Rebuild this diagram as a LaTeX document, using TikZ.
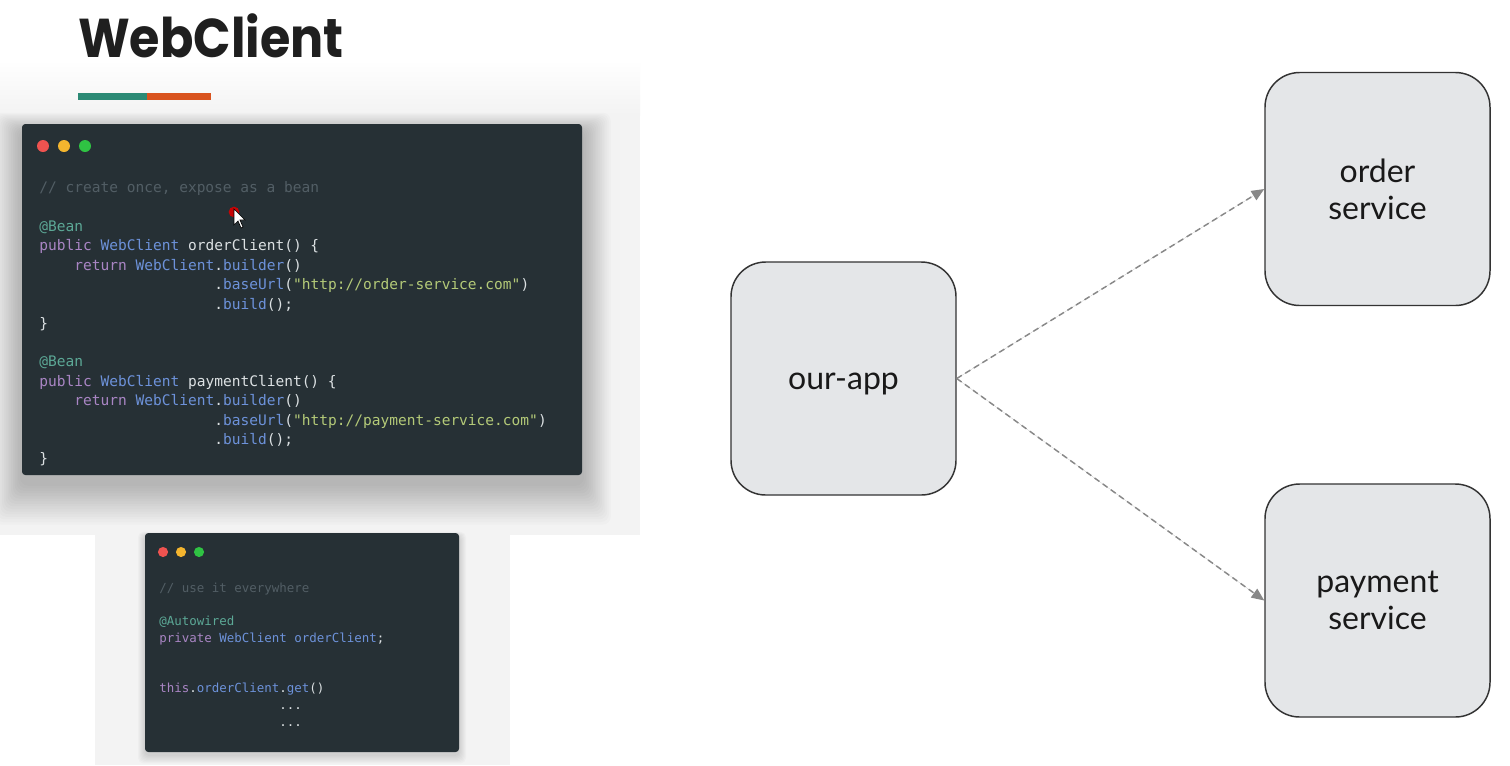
\documentclass[tikz,border=0pt]{standalone}
\usepackage{fontspec}
\setmainfont{Lato}
\setmonofont{DejaVu Sans Mono}
\newfontfamily\titlefont{Poppins}
\usetikzlibrary{arrows.meta}
\definecolor{bgG}{HTML}{F3F3F3}
\definecolor{winbg}{HTML}{263035}
\definecolor{cCom}{HTML}{525E65}
\definecolor{cAnn}{HTML}{5CA896}
\definecolor{cKey}{HTML}{A985C4}
\definecolor{cTyp}{HTML}{6D92DA}
\definecolor{cTxt}{HTML}{DCE1E3}
\definecolor{cStr}{HTML}{B4CA78}
\definecolor{dotR}{HTML}{EF5350}
\definecolor{dotY}{HTML}{F4B52E}
\definecolor{dotG}{HTML}{2FC343}
\definecolor{barT}{HTML}{2C8A75}
\definecolor{barO}{HTML}{D9531E}
\definecolor{boxF}{HTML}{E4E6E8}
\definecolor{boxD}{HTML}{333333}
\definecolor{arrC}{HTML}{888888}
\newcommand{\cCm}[1]{\textcolor{cCom}{#1}}
\newcommand{\cAn}[1]{\textcolor{cAnn}{#1}}
\newcommand{\cKw}[1]{\textcolor{cKey}{#1}}
\newcommand{\cTy}[1]{\textcolor{cTyp}{#1}}
\newcommand{\cSt}[1]{\textcolor{cStr}{#1}}
\tikzset{
  winbox/.style={fill=winbg, rounded corners=2.5pt, inner sep=0pt},
  codeA/.style={anchor=mid west, inner sep=0pt, text=cTxt, font=\ttfamily\fontsize{10.9}{13}\selectfont},
  codeB/.style={anchor=mid west, inner sep=0pt, text=cTxt, font=\ttfamily\fontsize{9.35}{12}\selectfont},
  svc/.style={draw=boxD, line width=1.1pt, fill=boxF, rounded corners=26pt, minimum width=168.75pt, minimum height=174.75pt, inner sep=0pt, align=center, font=\fontsize{24}{27.75}\selectfont, text=black!90},
  flow/.style={draw=arrC, line width=1.1pt, dash pattern=on 4.5pt off 3pt, -{Triangle[length=9.5pt,width=8pt]}, fill=arrC}
}
\begin{document}
\begin{tikzpicture}[x=0.75pt,y=-0.75pt]
\useasboundingbox (0,0) rectangle (1510,765);
\fill[white] (0,0) rectangle (1510,765);
% backdrop of the screenshot panels
\shade[top color=white, bottom color=bgG] (0,60) rectangle (640,115);
\fill[bgG] (0,115) rectangle (640,535);
\fill[bgG] (95,535) rectangle (510,765);
% soft shadow of window 1
\foreach \i in {1,...,16} {
  \fill[black, opacity=0.016, rounded corners=6pt] ({22-1.8*\i},{124-1.2*\i+8}) rectangle ({582+1.8*\i},{475+2.6*\i+8});
}
% soft shadow of window 2
\foreach \i in {1,...,7} {
  \fill[black, opacity=0.018, rounded corners=4pt] ({145-1.0*\i},{533-0.6*\i+3}) rectangle ({459+1.0*\i},{752+1.2*\i+3});
}
% title
\node[anchor=base west, inner sep=0pt, font=\titlefont\bfseries\fontsize{41}{48}\selectfont, text=black!88, xscale=0.9] (title) at (78,57) {WebClient};
\fill[barT] (78,93) rectangle (147,100);
\fill[barO] (147,93) rectangle (211,100);

% window 1
\node[winbox, minimum width=420pt, minimum height=263.25pt] (w1) at (302,299.5) {};
\fill[dotR] (43,146) circle[radius=4.5pt];
\fill[dotY] (64,146) circle[radius=4.5pt];
\fill[dotG] (85,146) circle[radius=4.5pt];
\node[codeA] (a1) at (39,189) {\cCm{// create once, expose as a bean}};
\node[codeA] (a2) at (39,228) {\cAn{@Bean}};
\node[codeA] (a3) at (39,247) {\cKw{public} \cTy{WebClient} orderClient() \{};
\node[codeA] (a4) at (74,267) {\cKw{return} \cTy{WebClient}.\cTy{builder}()};
\node[codeA] (a5) at (214,286) {.\cTy{baseUrl}(\cSt{"http://order-service.com"})};
\node[codeA] (a6) at (214,306) {.\cTy{build}();};
\node[codeA] (a7) at (39,325) {\}};
\node[codeA] (a8) at (39,363) {\cAn{@Bean}};
\node[codeA] (a9) at (39,383) {\cKw{public} \cTy{WebClient} paymentClient() \{};
\node[codeA] (a10) at (74,402) {\cKw{return} \cTy{WebClient}.\cTy{builder}()};
\node[codeA] (a11) at (214,422) {.\cTy{baseUrl}(\cSt{"http://payment-service.com"})};
\node[codeA] (a12) at (214,441) {.\cTy{build}();};
\node[codeA] (a13) at (39,460) {\}};
% cursor
\fill[red!85!black, opacity=0.9] (234,212) circle[radius=4pt];
\draw[fill=white, line width=0.5pt] (234,209) -- (234,225) -- (238,221) -- (241,228) -- (243,227) -- (240,220) -- (245,220) -- cycle;

% window 2
\node[winbox, minimum width=235.5pt, minimum height=164.25pt] (w2) at (302,642.5) {};
\fill[dotR] (163,552) circle[radius=3.8pt];
\fill[dotY] (181,552) circle[radius=3.8pt];
\fill[dotG] (199,552) circle[radius=3.8pt];
\node[codeB] (b1) at (159,589) {\cCm{// use it everywhere}};
\node[codeB] (b2) at (159,622) {\cAn{@Autowired}};
\node[codeB] (b3) at (159,639) {\cKw{private} \cTy{WebClient} \cTy{orderClient};};
\node[codeB] (b4) at (159,689) {\cKw{this}.\cTy{orderClient}.\cTy{get}()};
\node[codeB] (b5) at (279,706) {...};
\node[codeB] (b6) at (279,723) {...};

% diagram
\node[svc] (app) at (843.5,378.5) {\raisebox{-8.6pt}[0pt][0pt]{our-app}};
\node[svc] (order) at (1377.5,189) {order\\service};
\node[svc] (payment) at (1377.5,600.5) {payment\\service};
\draw[flow] (app.east) -- (order.west);
\draw[flow] (app.east) -- (payment.west);
\end{tikzpicture}
\end{document}
